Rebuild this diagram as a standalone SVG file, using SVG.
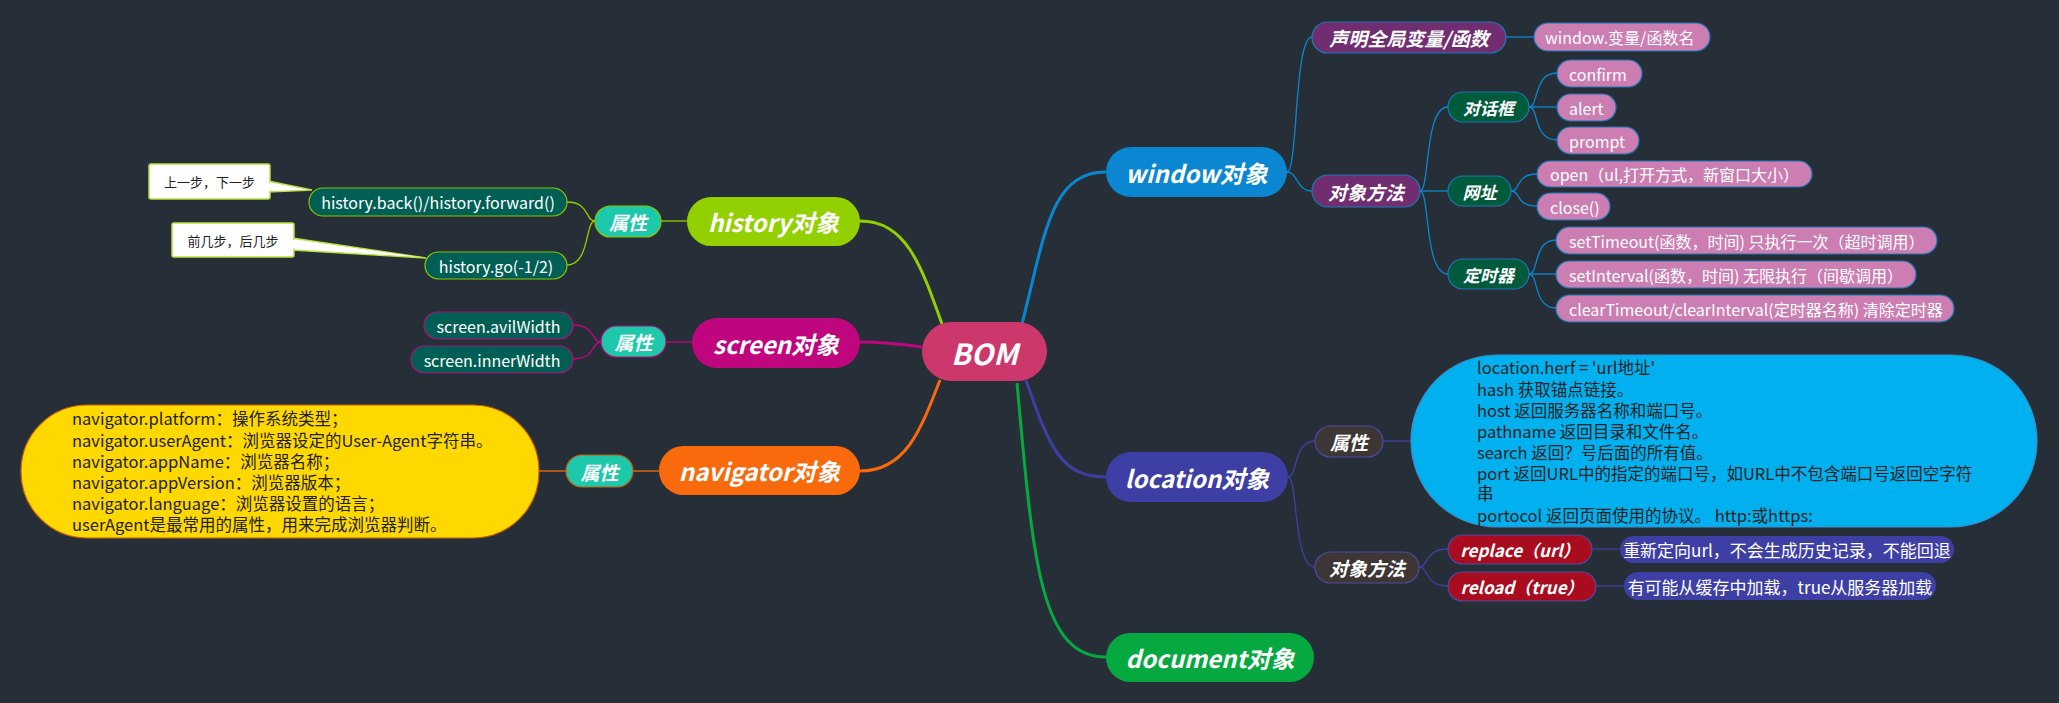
<svg xmlns="http://www.w3.org/2000/svg" width="2059" height="703" viewBox="0 0 2059 703">
<style>
text{font-family:"Noto Sans CJK SC","Noto Sans",sans-serif;}
.t{fill:#fff;text-anchor:middle;dominant-baseline:central;}
.tl{fill:#fff;dominant-baseline:central;}
.bi{font-weight:bold;font-style:italic;}
.main{font-size:24px;}
.l2{font-size:19px;}
.l3{font-size:17px;}
.leaf{font-size:16px;}
.desc{font-size:17px;}
.dark{fill:#222;font-size:16.5px;}
.c{fill:none;}
.thick{stroke-width:3;}
.thin{stroke-width:1.3;}
.wbd{stroke:#1e78b8;stroke-width:1.2;}
.lbd{stroke:#4a4aa8;stroke-width:1.2;}
.hbd{stroke:#8fc400;stroke-width:1.2;}
.sbd{stroke:#b0107a;stroke-width:1.2;}
.nbd{stroke:#c8600a;stroke-width:1.2;}
.purple{fill:#702e70;}
.pink{fill:#cc7db2;}
.dgreen{fill:#005a3c;}
.teal{fill:#1ec8aa;}
.dteal{fill:#005f55;}
.brown{fill:#3e3535;}
.red{fill:#a80c1e;}
.indigo{fill:#3e3fa4;}
.call{fill:#fff;stroke:#b8e040;stroke-width:1.5;}
.ct{fill:#222;font-size:13px;text-anchor:middle;dominant-baseline:central;}
</style>
<rect width="2059" height="703" fill="#262f37"/>

<g id="connectors" class="c">
  <path class="thick" stroke="#0a87d0" d="M1022,324 C1045,235 1050,172 1106,172"/>
  <path class="thick" stroke="#93d000" d="M942,324 C920,262 905,221 860,221"/>
  <path class="thick" stroke="#c0067f" d="M922,347 C900,344 880,342 860,342"/>
  <path class="thick" stroke="#f86a0b" d="M940,380 C920,432 905,471 860,471"/>
  <path class="thick" stroke="#3e3fa4" d="M1026,380 C1050,450 1062,477 1106,477"/>
  <path class="thick" stroke="#06a940" d="M1017,383 C1033,560 1040,657 1106,657"/>

  <g stroke="#0a87d0" class="thin">
    <path d="M1287,172 C1298,172 1294,37 1312,37"/>
    <path d="M1287,172 C1298,172 1296,191 1312,191"/>
    <path d="M1506,37 L1534,37"/>
    <path d="M1420,191 C1430,191 1424,107 1448,107"/>
    <path d="M1420,191 L1448,191"/>
    <path d="M1420,191 C1430,191 1424,274 1448,274"/>
    <path d="M1529,107 C1539,107 1533,73 1557,73"/>
    <path d="M1529,107 L1557,107"/>
    <path d="M1529,107 C1539,107 1533,140 1557,140"/>
    <path d="M1511,191 C1521,191 1515,174 1537,174"/>
    <path d="M1511,191 C1521,191 1515,206 1537,206"/>
    <path d="M1529,274 C1539,274 1533,240 1556,240"/>
    <path d="M1529,274 L1556,274"/>
    <path d="M1529,274 C1539,274 1533,308 1556,308"/>
  </g>
  <g stroke="#3e3fa4" class="thin">
    <path d="M1288,477 C1298,477 1293,441 1315,441"/>
    <path d="M1288,477 C1298,477 1293,567 1315,567"/>
    <path d="M1383,441 L1411,441"/>
    <path d="M1419,567 C1429,567 1424,549 1448,549"/>
    <path d="M1419,567 C1429,567 1424,586 1448,586"/>
    <path d="M1592,549 L1620,549"/>
    <path d="M1596,586 L1624,586"/>
  </g>
  <g stroke="#93d000" class="thin">
    <path d="M687,221 L661,221"/>
    <path d="M595,221 C585,221 590,202 567,202"/>
    <path d="M595,221 C585,221 590,265 567,265"/>
  </g>
  <g stroke="#c0067f" class="thin">
    <path d="M692,342 L666,342"/>
    <path d="M601,342 C591,342 596,325 573,325"/>
    <path d="M601,342 C591,342 596,359 573,359"/>
  </g>
  <g stroke="#f86a0b" class="thin">
    <path d="M660,471 L633,471"/>
    <path d="M566,471 L539,471"/>
  </g>
</g>

<g id="bom">
  <rect x="922" y="322" width="125" height="59" rx="29.5" fill="#cc386c"/>
  <text class="t bi" x="984.5" y="352" font-size="29">BOM</text>
</g>

<g id="window">
  <rect x="1106" y="147" width="181" height="50" rx="25" fill="#0a87d0"/>
  <text class="t bi main" x="1196.5" y="172">window对象</text>
</g>
<g id="history">
  <rect x="687" y="197" width="173" height="49" rx="24.5" fill="#93d000"/>
  <text class="t bi main" x="773.5" y="221.5">history对象</text>
</g>
<g id="screen">
  <rect x="692" y="318" width="168" height="50" rx="25" fill="#c0067f"/>
  <text class="t bi main" x="776" y="343">screen对象</text>
</g>
<g id="navigator">
  <rect x="659" y="446" width="201" height="49" rx="24.5" fill="#f86a0b"/>
  <text class="t bi main" x="759.5" y="470.5">navigator对象</text>
</g>
<g id="location">
  <rect x="1106" y="452" width="182" height="50" rx="25" fill="#3e3fa4"/>
  <text class="t bi main" x="1197" y="477">location对象</text>
</g>
<g id="document">
  <rect x="1106" y="633" width="208" height="49" rx="24.5" fill="#06a940"/>
  <text class="t bi main" x="1210" y="657.5">document对象</text>
</g>

<!-- window branch -->
<g id="w-declare">
  <rect class="purple wbd" x="1312" y="22" width="194" height="31" rx="15.5"/>
  <text class="t bi l2" x="1409" y="37.5">声明全局变量/函数</text>
</g>
<g id="w-declare-leaf">
  <rect class="pink wbd" x="1534" y="23" width="176" height="28" rx="14"/>
  <text class="tl leaf" x="1545" y="37">window.变量/函数名</text>
</g>
<g id="w-methods">
  <rect class="purple wbd" x="1312" y="175" width="108" height="32" rx="16"/>
  <text class="t bi l2" x="1366" y="191">对象方法</text>
</g>
<g id="w-dialog">
  <rect class="dgreen wbd" x="1448" y="92" width="81" height="30" rx="15"/>
  <text class="t bi l3" x="1488.5" y="107">对话框</text>
</g>
<g id="w-url">
  <rect class="dgreen wbd" x="1448" y="176" width="63" height="30" rx="15"/>
  <text class="t bi l3" x="1479.5" y="191">网址</text>
</g>
<g id="w-timer">
  <rect class="dgreen wbd" x="1448" y="259" width="81" height="30" rx="15"/>
  <text class="t bi l3" x="1488.5" y="274">定时器</text>
</g>
<g id="w-confirm">
  <rect class="pink wbd" x="1557" y="60" width="85" height="27" rx="13.5"/>
  <text class="tl leaf" x="1569" y="73.5">confirm</text>
</g>
<g id="w-alert">
  <rect class="pink wbd" x="1557" y="94" width="59" height="27" rx="13.5"/>
  <text class="tl leaf" x="1569" y="107.5">alert</text>
</g>
<g id="w-prompt">
  <rect class="pink wbd" x="1557" y="127" width="82" height="27" rx="13.5"/>
  <text class="tl leaf" x="1569" y="140.5">prompt</text>
</g>
<g id="w-open">
  <rect class="pink wbd" x="1537" y="161" width="275" height="26" rx="13"/>
  <text class="tl leaf" x="1550" y="174">open（ul,打开方式，新窗口大小）</text>
</g>
<g id="w-close">
  <rect class="pink wbd" x="1537" y="193" width="73" height="27" rx="13.5"/>
  <text class="tl leaf" x="1550" y="206.5">close()</text>
</g>
<g id="w-settimeout">
  <rect class="pink wbd" x="1556" y="227" width="381" height="27" rx="13.5"/>
  <text class="tl leaf" x="1569" y="240.5">setTimeout(函数，时间) 只执行一次（超时调用）</text>
</g>
<g id="w-setinterval">
  <rect class="pink wbd" x="1556" y="261" width="360" height="27" rx="13.5"/>
  <text class="tl leaf" x="1569" y="274.5">setInterval(函数，时间) 无限执行（间歇调用）</text>
</g>
<g id="w-clear">
  <rect class="pink wbd" x="1556" y="295" width="398" height="27" rx="13.5"/>
  <text class="tl leaf" x="1569" y="308.5">clearTimeout/clearInterval(定时器名称) 清除定时器</text>
</g>

<!-- location branch -->
<g id="l-props">
  <rect class="brown lbd" x="1315" y="426" width="68" height="31" rx="15.5"/>
  <text class="t bi l2" x="1349" y="441.5">属性</text>
</g>
<g id="l-props-box">
  <rect x="1411" y="355" width="626" height="172" rx="86" fill="#00b0ef" stroke="#3a8fd0" stroke-width="1.2"/>
  <text class="dark">
    <tspan x="1477" y="374">location.herf = 'url地址'</tspan>
    <tspan x="1477" y="396">hash 获取锚点链接。</tspan>
    <tspan x="1477" y="417">host 返回服务器名称和端口号。</tspan>
    <tspan x="1477" y="438">pathname 返回目录和文件名。</tspan>
    <tspan x="1477" y="459">search 返回？号后面的所有值。</tspan>
    <tspan x="1477" y="480">port 返回URL中的指定的端口号，如URL中不包含端口号返回空字符</tspan>
    <tspan x="1477" y="500">串</tspan>
    <tspan x="1477" y="522">portocol 返回页面使用的协议。 http:或https:</tspan>
  </text>
</g>
<g id="l-methods">
  <rect class="brown lbd" x="1315" y="552" width="104" height="31" rx="15.5"/>
  <text class="t bi l2" x="1367" y="567.5">对象方法</text>
</g>
<g id="l-replace">
  <rect class="red lbd" x="1448" y="535" width="144" height="29" rx="14.5"/>
  <text class="t bi l3" x="1520" y="549.5">replace（url）</text>
</g>
<g id="l-reload">
  <rect class="red lbd" x="1448" y="572" width="148" height="29" rx="14.5"/>
  <text class="t bi l3" x="1522" y="586.5">reload（true）</text>
</g>
<g id="l-replace-desc">
  <rect class="indigo" x="1620" y="536" width="334" height="27" rx="13.5"/>
  <text class="t desc" x="1787" y="549.5">重新定向url，不会生成历史记录，不能回退</text>
</g>
<g id="l-reload-desc">
  <rect class="indigo" x="1624" y="572" width="312" height="28" rx="14"/>
  <text class="t desc" x="1780" y="586">有可能从缓存中加载，true从服务器加载</text>
</g>

<!-- history branch -->
<g id="h-props">
  <rect class="teal hbd" x="595" y="206" width="66" height="31" rx="15.5"/>
  <text class="t bi l2" x="628" y="221.5">属性</text>
</g>
<g id="h-back">
  <rect class="dteal hbd" x="309" y="188" width="258" height="28" rx="14"/>
  <text class="t leaf" x="438" y="202">history.back()/history.forward()</text>
</g>
<g id="h-go">
  <rect class="dteal hbd" x="425" y="252" width="142" height="27" rx="13.5"/>
  <text class="t leaf" x="496" y="265.5">history.go(-1/2)</text>
</g>
<g id="h-note1">
  <polygon class="call" points="268,181 312,190 268,192"/>
  <rect class="call" x="149" y="164" width="121" height="35" rx="2"/>
  <polygon points="267,182.5 308,190 267,190.5" fill="#fff"/>
  <text class="ct" x="209.5" y="181.5">上一步，下一步</text>
</g>
<g id="h-note2">
  <polygon class="call" points="292,238 426,258 292,250"/>
  <rect class="call" x="172" y="223" width="122" height="34" rx="2"/>
  <polygon points="291,239.5 420,257 291,248.5" fill="#fff"/>
  <text class="ct" x="233" y="240">前几步，后几步</text>
</g>

<!-- screen branch -->
<g id="s-props">
  <rect class="teal sbd" x="601" y="326" width="65" height="31" rx="15.5"/>
  <text class="t bi l2" x="633.5" y="341.5">属性</text>
</g>
<g id="s-avil">
  <rect class="dteal sbd" x="424" y="312" width="149" height="27" rx="13.5"/>
  <text class="t leaf" x="498.5" y="325.5">screen.avilWidth</text>
</g>
<g id="s-inner">
  <rect class="dteal sbd" x="411" y="346" width="162" height="27" rx="13.5"/>
  <text class="t leaf" x="492" y="359.5">screen.innerWidth</text>
</g>

<!-- navigator branch -->
<g id="n-props">
  <rect class="teal nbd" x="566" y="455" width="67" height="32" rx="16"/>
  <text class="t bi l2" x="599.5" y="471">属性</text>
</g>
<g id="n-box">
  <rect x="21" y="405" width="518" height="133" rx="66" fill="#ffd800" stroke="#c8600a" stroke-width="1.2"/>
  <text class="dark" font-size="16">
    <tspan x="72" y="425">navigator.platform：操作系统类型；</tspan>
    <tspan x="72" y="447">navigator.userAgent：浏览器设定的User-Agent字符串。</tspan>
    <tspan x="72" y="468">navigator.appName：浏览器名称；</tspan>
    <tspan x="72" y="489">navigator.appVersion：浏览器版本；</tspan>
    <tspan x="72" y="510">navigator.language：浏览器设置的语言；</tspan>
    <tspan x="72" y="531">userAgent是最常用的属性，用来完成浏览器判断。</tspan>
  </text>
</g>
</svg>
